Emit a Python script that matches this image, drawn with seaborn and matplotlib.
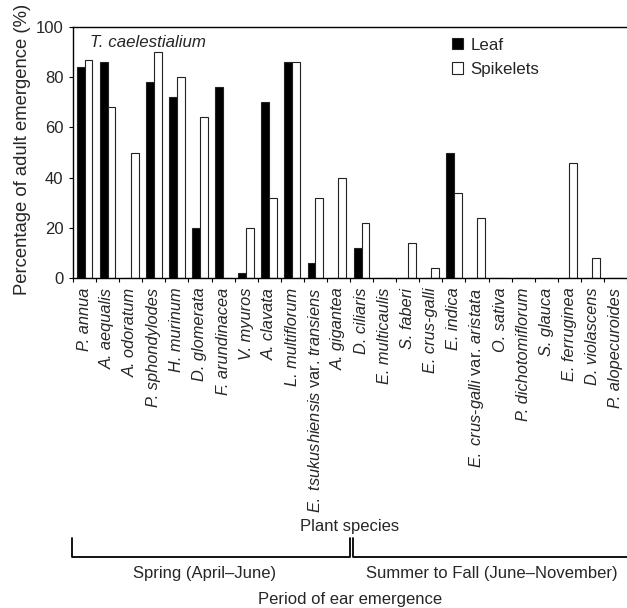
import matplotlib
matplotlib.use("Agg")
import matplotlib.pyplot as plt
import seaborn as sns
import pandas as pd

# data
species = ["P. annua", "A. aequalis", "A. odoratum", "P. sphondylodes", "H. murinum",
           "D. glomerata", "F. arundinacea", "V. myuros", "A. clavata", "L. multiflorum",
           "E. tsukushiensis var. transiens", "A. gigantea", "D. ciliaris", "E. multicaulis",
           "S. faberi", "E. crus-galli", "E. indica", "E. crus-galli var. aristata",
           "O. sativa", "P. dichotomiflorum", "S. glauca", "E. ferruginea",
           "D. violascens", "P. alopecuroides"]
leaf = [84, 86, 0, 78, 72, 20, 76, 2, 70, 86, 6, 0, 12, 0, 0, 0, 50, 0, 0, 0, 0, 0, 0, 0]
spikelets = [87, 68, 50, 90, 80, 64, 0, 20, 32, 86, 32, 40, 22, 0, 14, 4, 34, 24, 0, 0, 0, 46, 8, 0]
yticks = [0, 20, 40, 60, 80, 100]

sns.set_style("ticks")
plt.rcParams['font.family'] = ['Liberation Sans', 'DejaVu Sans']
plt.rcParams['mathtext.fontset'] = 'custom'
plt.rcParams['mathtext.it'] = 'Liberation Sans:italic'
plt.rcParams['mathtext.rm'] = 'Liberation Sans'

FS = 12

df = pd.DataFrame({"species": species * 2,
                   "value": leaf + spikelets,
                   "part": ["Leaf"] * len(species) + ["Spikelets"] * len(species)})

fig = plt.figure(figsize=(6.27, 6.08), dpi=100)
ax = fig.add_axes([73 / 627, 330 / 608, 554 / 627, 251 / 608])

sns.barplot(data=df, x="species", y="value", hue="part", order=species,
            palette={"Leaf": "black", "Spikelets": "white"}, edgecolor="#222222",
            linewidth=0.8, width=0.68, gap=0, errorbar=None, ax=ax)

ax.set_ylim(0, 100)
ax.set_xlim(-0.5, len(species) - 0.5)
ax.set_yticks(yticks)
ax.tick_params(axis="y", labelsize=12, length=3, pad=4, width=0.8, color="black")
ax.spines["right"].set_visible(False)
for s in ["left", "top", "bottom"]:
    ax.spines[s].set_color("black")
    ax.spines[s].set_linewidth(1.0)


def fmt(name):
    def it(s):
        return "$\\mathit{" + s.replace(" ", "\\ ").replace("-", "}$-$\\mathit{") + "}$"
    if " var. " in name:
        a, b = name.split(" var. ")
        return it(a) + " var. " + it(b)
    return name


ax.set_xticks(range(len(species)))
ax.set_xticklabels([fmt(n) for n in species], rotation=90, fontsize=11.8)
for t, n in zip(ax.get_xticklabels(), species):
    if " var. " not in n:
        t.set_fontstyle("italic")
ax.tick_params(axis="x", which="major", length=0, pad=7)
ax.set_xticks([i - 0.5 for i in range(len(species) + 1)], minor=True)
ax.tick_params(axis="x", which="minor", length=3, width=0.8, color="black")

ax.set_xlabel("Plant species", fontsize=FS)
ax.xaxis.set_label_coords(0.5, -0.962)
ax.set_ylabel("Percentage of adult emergence (%)", fontsize=13.3)
ax.yaxis.set_label_coords(-0.076, 0.512)

ax.text(0.031, 0.94, "T. caelestialium", transform=ax.transAxes, fontsize=12.2,
        fontstyle="italic", va="center", ha="left")

handles, labels = ax.get_legend_handles_labels()
ax.legend(handles, labels, loc="upper left", bbox_to_anchor=(0.672, 0.985), frameon=False,
          fontsize=12.2, handlelength=0.65, handleheight=0.65, handletextpad=0.45,
          labelspacing=0.55, borderaxespad=0)

# period brackets under the species names
kw = dict(transform=ax.transAxes, clip_on=False, color="black", lw=1.3)
ax.plot([-0.002, -0.002, 0.5, 0.5], [-1.036, -1.112, -1.112, -1.036], **kw)
ax.plot([0.5054, 0.5054, 1.0], [-1.036, -1.112, -1.112], **kw)
ax.text(0.238, -1.179, "Spring (April–June)", transform=ax.transAxes, fontsize=FS,
        ha="center", va="center")
ax.text(0.756, -1.179, "Summer to Fall (June–November)", transform=ax.transAxes,
        fontsize=FS, ha="center", va="center")
ax.text(0.5, -1.279, "Period of ear emergence", transform=ax.transAxes, fontsize=FS,
        ha="center", va="center")

fig.savefig("out.png", dpi=100)
